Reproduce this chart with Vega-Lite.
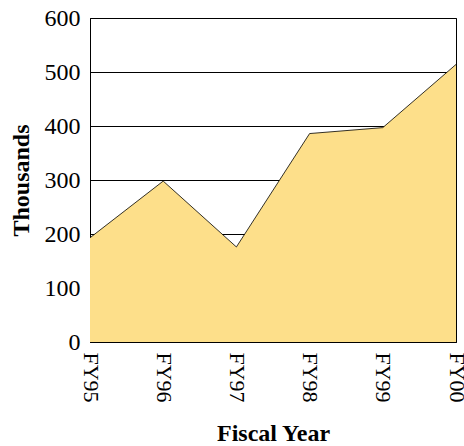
{
  "$schema": "https://vega.github.io/schema/vega-lite/v6.json",
  "width": 366,
  "height": 324,
  "autosize": {"type": "none"},
  "padding": {"left": 90, "top": 18, "right": 8, "bottom": 104},
  "background": "white",
  "config": {
    "view": {"stroke": "black", "strokeWidth": 1},
    "font": "Liberation Serif",
    "axis": {"labelFont": "Liberation Serif", "titleFont": "Liberation Serif", "labelColor": "black", "titleColor": "black"}
  },
  "data": {
    "values": [
      {"year": "FY95", "value": 193},
      {"year": "FY96", "value": 298},
      {"year": "FY97", "value": 176},
      {"year": "FY98", "value": 386},
      {"year": "FY99", "value": 397},
      {"year": "FY00", "value": 514}
    ]
  },
  "mark": {"type": "area", "color": "#FDDF8A", "opacity": 1, "line": {"color": "black", "strokeWidth": 0.8}},
  "encoding": {
    "x": {
      "field": "year", "type": "ordinal", "sort": null,
      "scale": {"type": "point", "padding": 0},
      "axis": {"title": "Fiscal Year", "titleFontSize": 24, "titleFontWeight": "bold", "titlePadding": 19,
               "labelAngle": 90, "labelFontSize": 22, "labelPadding": 10, "ticks": false, "labelOverlap": false,
               "domainColor": "black", "labelAlign": "left", "labelBaseline": "middle"}
    },
    "y": {
      "field": "value", "type": "quantitative",
      "scale": {"domain": [0, 600], "nice": false},
      "axis": {"title": "Thousands", "titleFontSize": 24, "titleFontWeight": "bold", "titlePadding": 11,
               "labelFontSize": 24, "labelPadding": 10, "ticks": false, "labelOverlap": false,
               "values": [0, 100, 200, 300, 400, 500, 600],
               "grid": true, "gridColor": "black", "gridOpacity": 1, "gridWidth": 1, "domainColor": "black"}
    }
  }
}
